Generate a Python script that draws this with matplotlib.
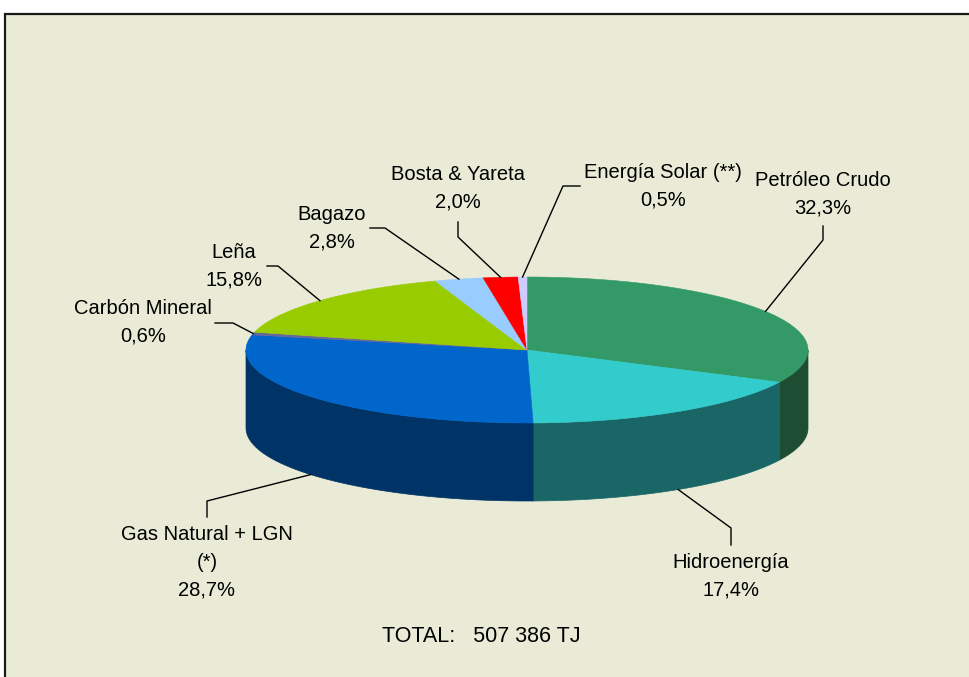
import numpy as np
import matplotlib.pyplot as plt
from matplotlib.patches import Polygon, Rectangle

# datos (porcentajes de la produccion de energia primaria)
categorias = ["Petróleo Crudo", "Hidroenergía", "Gas Natural + LGN\n(*)",
              "Carbón Mineral", "Leña", "Bagazo", "Bosta & Yareta",
              "Energía Solar (**)"]
porcentajes = [32.3, 17.4, 28.7, 0.6, 15.8, 2.8, 2.0, 0.5]
colores = ["#339966", "#33CCCC", "#0066CC", "#666699",
           "#99CC00", "#99CCFF", "#FF0000", "#CCCCFF"]
colores_lado = ["#1D4D33", "#1A6666", "#003366", "#333366",
                "#4D6600", "#4D6680", "#800000", "#666680"]
total_texto = "TOTAL:   507 386 TJ"

# layout (pixeles)
W, H = 969, 677
cx, cy, rx, ry, prof = 527, 350, 281, 73, 78
fondo = "#E9EBD6"
etiq_xy = [(823, 180), (731, 563), (207, 535), (143, 309),
           (234, 253), (332, 214), (458, 174), (663, 172)]
guias = [[(823, 226), (823, 240)], [(731, 545), (731, 528)],
         [(207, 517), (207, 501)], [(215, 323), (233, 323)],
         [(267, 266), (278, 266)], [(370, 228), (385, 228)],
         [(458, 222), (458, 237)], [(580, 186), (563, 186)]]
salto = 27.5

plt.rcParams['font.family'] = ['Liberation Sans', 'DejaVu Sans']

fig = plt.figure(figsize=(W / 100, H / 100), dpi=100)
fig.patch.set_facecolor("white")
ax = fig.add_axes([0, 0, 1, 1])
ax.set_xlim(0, W)
ax.set_ylim(H, 0)
ax.axis("off")

ax.add_patch(Rectangle((5, 14), W + 20, H + 20, facecolor=fondo,
                       edgecolor="#1a1a1a", lw=1.6, zorder=0))


def punto(t, dy=0):
    t = np.radians(t)
    return cx + rx * np.cos(t), cy - ry * np.sin(t) + dy


frac = np.array(porcentajes) / sum(porcentajes)
ang_ini = 90 - 360 * np.concatenate([[0], np.cumsum(frac)[:-1]])
ang_fin = ang_ini - 360 * frac

# lados (solo la mitad frontal es visible)
for a1, a2, col in zip(ang_ini, ang_fin, colores_lado):
    for k in [-1, 0, 1]:
        lo, hi = -180 + 360 * k, 0 + 360 * k
        s, e = max(a2, lo), min(a1, hi)
        if e <= s:
            continue
        t = np.linspace(e, s, 80)
        xs, ys = punto(t)
        xb, yb = punto(t[::-1], prof)
        pts = np.column_stack([np.concatenate([xs, xb]),
                               np.concatenate([ys, yb])])
        ax.add_patch(Polygon(pts, closed=True, facecolor=col,
                             edgecolor=col, lw=0.5, zorder=2))

# cara superior
for a1, a2, col in zip(ang_ini, ang_fin, colores):
    t = np.linspace(a1, a2, max(int(abs(a1 - a2)), 3))
    xs, ys = punto(t)
    pts = np.column_stack([np.concatenate([[cx], xs]),
                           np.concatenate([[cy], ys])])
    ax.add_patch(Polygon(pts, closed=True, facecolor=col,
                         edgecolor=col, lw=0.4, zorder=3))

# etiquetas y lineas guia
for i, nombre in enumerate(categorias):
    lineas = nombre.split("\n") + [f"{porcentajes[i]:.1f}".replace(".", ",") + "%"]
    x0, y0 = etiq_xy[i]
    for j, ln in enumerate(lineas):
        ax.text(x0, y0 + j * salto, ln, ha="center", va="center",
                fontsize=14.5, color="black", zorder=5)
    mid = (ang_ini[i] + ang_fin[i]) / 2
    frente = np.sin(np.radians(mid)) < 0
    ax_, ay_ = punto(mid, prof if frente else 0)
    (x1, y1), (x2, y2) = guias[i]
    ax.plot([x1, x2, ax_], [y1, y2, ay_], color="black", lw=1.0, zorder=4)

ax.text(481, 636, total_texto, ha="center", va="center", fontsize=15.5,
        color="black")

fig.savefig("out.png", dpi=100, facecolor=fig.get_facecolor())
